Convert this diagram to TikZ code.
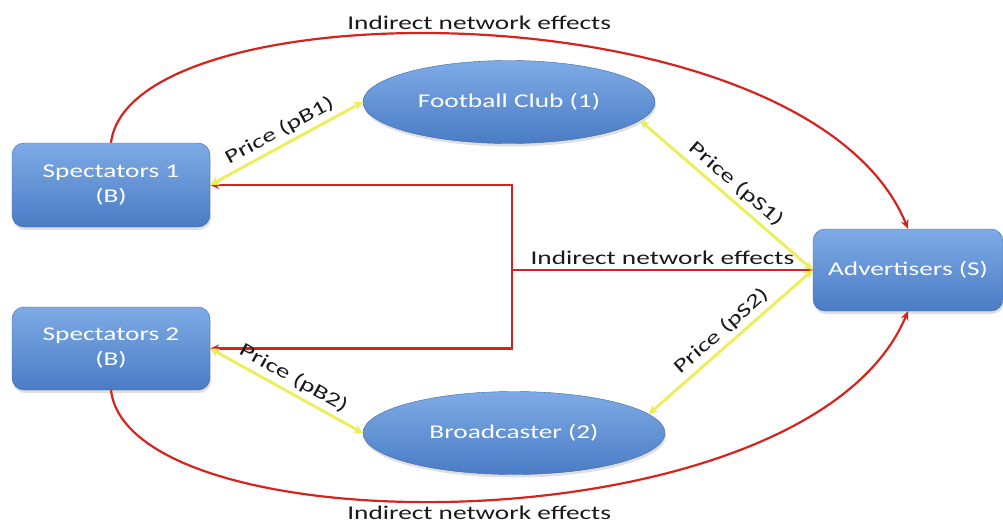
\documentclass[tikz,border=0pt]{standalone}
\usepackage{fontspec}
\setmainfont{Carlito}[FakeStretch=1.4]
\usepackage{xcolor}
\usetikzlibrary{arrows.meta,shapes.geometric,shadows}

\definecolor{boxtop}{HTML}{7EABE6}
\definecolor{boxbot}{HTML}{4A7CC5}
\definecolor{effred}{HTML}{D6231E}
\definecolor{priceyel}{HTML}{EDEE5E}

\begin{document}
\begin{tikzpicture}[x=1pt,y=-1pt,
  party/.style={rounded corners=12pt,top color=boxtop,bottom color=boxbot,
    draw=boxbot!85!black,line width=0.4pt,text=white,align=center,inner sep=0pt,
    font=\fontsize{19.5}{25}\selectfont,
    drop shadow={opacity=0.25,shadow xshift=1pt,shadow yshift=-3pt}},
  firm/.style={ellipse,top color=boxtop,bottom color=boxbot,
    draw=boxbot!85!black,line width=0.4pt,text=white,inner sep=0pt,
    font=\fontsize{19.5}{25}\selectfont,
    drop shadow={opacity=0.25,shadow xshift=1pt,shadow yshift=-3pt}},
  effect/.style={effred,line width=2.2pt,-{Stealth[length=9pt,width=8pt]}},
  price/.style={priceyel,line width=3pt,
    {Stealth[length=9pt,width=9pt]}-{Stealth[length=9pt,width=9pt]}},
  lbl/.style={font=\fontsize{19.5}{23}\selectfont,text=black!90}]
  \useasboundingbox (0,0) rectangle (1003,524);
  % --- the five parties ---
  \node[party,minimum width=198pt,minimum height=84pt] (spectA) at (111,185) {Spectators 1\\(B)};
  \node[party,minimum width=198pt,minimum height=83pt] (spectB) at (111,348.5) {Spectators 2\\(B)};
  \node[party,minimum width=190pt,minimum height=82pt] (adv) at (908,270) {Advertisers (S)};
  \node[firm,minimum width=292pt,minimum height=83pt] (club) at (509,102) {Football Club (1)};
  \node[firm,minimum width=302pt,minimum height=83pt] (caster) at (514,433) {Broadcaster (2)};
  % --- indirect network effects ---
  \draw[effect] (spectA.north) .. controls (130,-15) and (808,-15) .. (adv.north)
    node[midway,lbl,above=1pt] {Indirect network effects};
  \draw[effect] (spectB.south) .. controls (130,550) and (808,550) .. (adv.south)
    node[midway,lbl,below=1pt] {Indirect network effects};
  \coordinate (split) at (512,270);
  \draw[effred,line width=2.2pt] (adv.west) -- node[lbl,above=1pt] {Indirect network effects} (split);
  \draw[effect] (split) |- (spectA.east);
  \draw[effect] (split) |- (spectB.east);
  % --- prices ---
  \draw[price] (spectA.east) -- node[lbl,sloped,above=1pt] {Price (pB1)} (club.west);
  \draw[price] (club.-8) -- node[lbl,sloped,above=1pt] {Price (pS1)} (adv.west);
  \draw[price] (caster.8) -- node[lbl,sloped,above=1pt] {Price (pS2)} (adv.west);
  \draw[price] (spectB.east) -- node[lbl,sloped,above=1pt] {Price (pB2)} (caster.west);
\end{tikzpicture}
\end{document}
